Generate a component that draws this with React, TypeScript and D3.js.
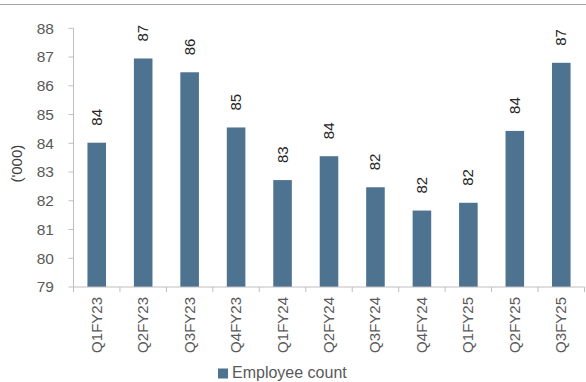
import React from "react";
import * as d3 from "d3";

const categories = ["Q1FY23","Q2FY23","Q3FY23","Q4FY23","Q1FY24","Q2FY24","Q3FY24","Q4FY24","Q1FY25","Q2FY25","Q3FY25"];
const values = [84.02, 86.95, 86.47, 84.55, 82.72, 83.55, 82.47, 81.66, 81.93, 84.43, 86.8];
const yTicks = [79, 80, 81, 82, 83, 84, 85, 86, 87, 88];
const seriesName = "Employee count";
const axisTitle = "('000)";

const W = 586, H = 382;
const left = 73.5, right = 584.5, top = 28.3, bottom = 287;
const barColor = "#4e7391";
const font = "'Liberation Sans', Arial, sans-serif";

export default function App() {
  const x = d3.scaleBand<string>().domain(categories).range([left, right]).paddingInner(0.6).paddingOuter(0.3);
  const y = d3.scaleLinear().domain([79, 88]).range([bottom, top]);
  const bandEdges = d3.range(categories.length + 1).map((i) => left + i * ((right - left) / categories.length));
  return (
    <svg width={W} height={H} style={{ position: "absolute", left: 0, top: 0 }}>
      <rect x={0} y={0} width={W} height={H} fill="#fff" />
      <line x1={0} x2={W} y1={4.5} y2={4.5} stroke="#a6a6a6" strokeWidth={1.2} />
      {values.map((v, i) => {
        const c = categories[i];
        const bx = x(c)!;
        return (
          <g key={c}>
            <rect x={bx} y={y(v)} width={x.bandwidth()} height={bottom - y(v)} fill={barColor} />
            <text
              transform={`translate(${bx + x.bandwidth() / 2 + 5},${y(v) - 17}) rotate(-90)`}
              fontFamily={font}
              fontSize={15}
              fill="#262626"
            >
              {d3.format(".0f")(v)}
            </text>
            <text
              transform={`translate(${bx + x.bandwidth() / 2 + 5},${bottom + 10}) rotate(-90)`}
              textAnchor="end"
              fontFamily={font}
              fontSize={15}
              fill="#595959"
            >
              {c}
            </text>
          </g>
        );
      })}
      <line x1={left} x2={left} y1={top} y2={bottom} stroke="#bfbfbf" />
      <line x1={left} x2={right} y1={bottom} y2={bottom} stroke="#bfbfbf" />
      {yTicks.map((t) => (
        <g key={t}>
          <line x1={left - 5} x2={left} y1={y(t)} y2={y(t)} stroke="#bfbfbf" />
          <text x={54} y={y(t)} dy="0.35em" textAnchor="end" fontFamily={font} fontSize={15.5} fill="#595959">
            {t}
          </text>
        </g>
      ))}
      {bandEdges.map((bx, i) => (
        <line key={i} x1={bx} x2={bx} y1={bottom} y2={bottom + 5} stroke="#bfbfbf" />
      ))}
      <text
        transform={`translate(22,${(top + bottom) / 2 + 6}) rotate(-90)`}
        textAnchor="middle"
        fontFamily={font}
        fontSize={15}
        fill="#404040"
      >
        {axisTitle}
      </text>
      <rect x={218} y={368.5} width={10} height={10} fill={barColor} />
      <text x={232} y={378} fontFamily={font} fontSize={16} fill="#595959">
        {seriesName}
      </text>
    </svg>
  );
}
